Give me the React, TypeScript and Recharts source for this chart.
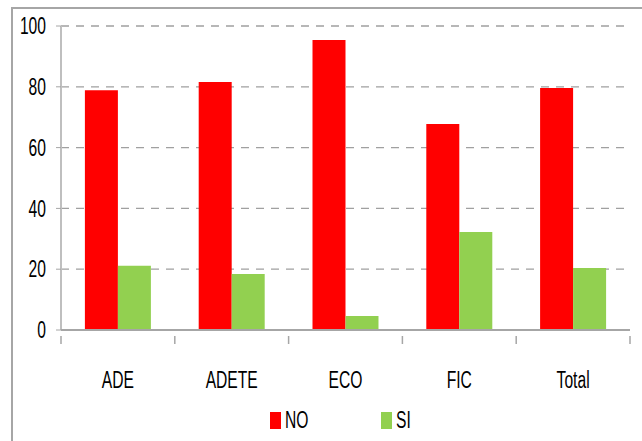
import React from 'react';
import { BarChart, Bar, XAxis, YAxis, CartesianGrid, Legend } from 'recharts';

const categories = ['ADE', 'ADETE', 'ECO', 'FIC', 'Total'];
const noValues = [78.9, 81.6, 95.4, 67.8, 79.6];
const siValues = [21.1, 18.4, 4.6, 32.2, 20.4];
const yTicks = [0, 20, 40, 60, 80, 100];

const data = categories.map((name, i) => ({ name, NO: noValues[i], SI: siValues[i] }));

const W = 642;
const H = 441;
const MARGIN = { top: 26, right: 12, left: 0, bottom: 0 };
const Y_W = 61;
const PLOT_W = W - MARGIN.right - Y_W;
const BAND = PLOT_W / categories.length;
const FONT = '"Liberation Sans", Arial, sans-serif';
const FS = 23;
const SX = 0.68;
const AXIS = '#a6a6a6';

const YTick = (props: any) => {
  const { x, y, payload } = props;
  return (
    <text transform={`translate(${x},${y}) scale(${SX},1)`} textAnchor="end" dy="0.36em" fontSize={FS} fontFamily={FONT} fill="#000">
      {payload.value}
    </text>
  );
};

const XTick = (props: any) => {
  const { x, y, payload, index } = props;
  const last = index === categories.length - 1;
  return (
    <g>
      <line x1={x - BAND / 2} x2={x - BAND / 2} y1={y - 2} y2={y + 6} stroke={AXIS} strokeWidth={1.5} />
      {last && <line x1={x + BAND / 2} x2={x + BAND / 2} y1={y - 2} y2={y + 6} stroke={AXIS} strokeWidth={1.5} />}
      <text transform={`translate(${x},${y + 50}) scale(${SX},1)`} textAnchor="middle" fontSize={FS} fontFamily={FONT} fill="#000">
        {payload.value}
      </text>
    </g>
  );
};

const LegendContent = (props: any) => {
  const items = props.payload || [];
  return (
    <div style={{ position: 'relative', height: 24 }}>
      {items.map((it: any, i: number) => (
        <div key={it.value} style={{ position: 'absolute', left: i === 0 ? 270 : 381, top: 0, display: 'flex', alignItems: 'center' }}>
          <span style={{ display: 'inline-block', width: 11, height: 17, background: it.color }} />
          <span style={{ display: 'inline-block', marginLeft: 4, fontSize: FS, fontFamily: FONT, color: '#000', lineHeight: '20px', transform: `scaleX(${SX})`, transformOrigin: 'left center' }}>{it.value}</span>
        </div>
      ))}
    </div>
  );
};

export default function App() {
  return (
    <div style={{ position: 'absolute', left: 0, top: 0, width: W, height: H, background: '#fff', overflow: 'hidden' }}>
      <div style={{ position: 'absolute', left: 11, top: 7, width: W, height: H, borderLeft: '2px solid #a6a6a6', borderTop: '2px solid #a6a6a6' }} />
      <div style={{ position: 'absolute', left: 0, top: 0 }}>
        <BarChart width={W} height={H} data={data} margin={MARGIN} barCategoryGap="21%" barGap={0}>
          <CartesianGrid vertical={false} horizontal stroke="#a0a0a0" strokeDasharray="8 7" strokeWidth={1.3}
            horizontalValues={[20, 40, 60, 80, 100]} />
          <YAxis
            width={Y_W}
            domain={[0, 100]}
            ticks={yTicks}
            interval={0}
            tickSize={5}
            tickMargin={10}
            axisLine={{ stroke: '#bfbfbf', strokeWidth: 2 }}
            tickLine={{ stroke: AXIS }}
            tick={<YTick />}
          />
          <XAxis
            dataKey="name"
            height={111 - 36}
            interval={0}
            tickLine={false}
            axisLine={{ stroke: AXIS, strokeWidth: 2 }}
            tick={<XTick />}
          />
          <Legend verticalAlign="bottom" height={36} content={<LegendContent />} wrapperStyle={{ left: 0, bottom: -5 }} />
          <Bar dataKey="NO" fill="#ff0000" isAnimationActive={false} />
          <Bar dataKey="SI" fill="#92d050" isAnimationActive={false} />
        </BarChart>
      </div>
    </div>
  );
}
